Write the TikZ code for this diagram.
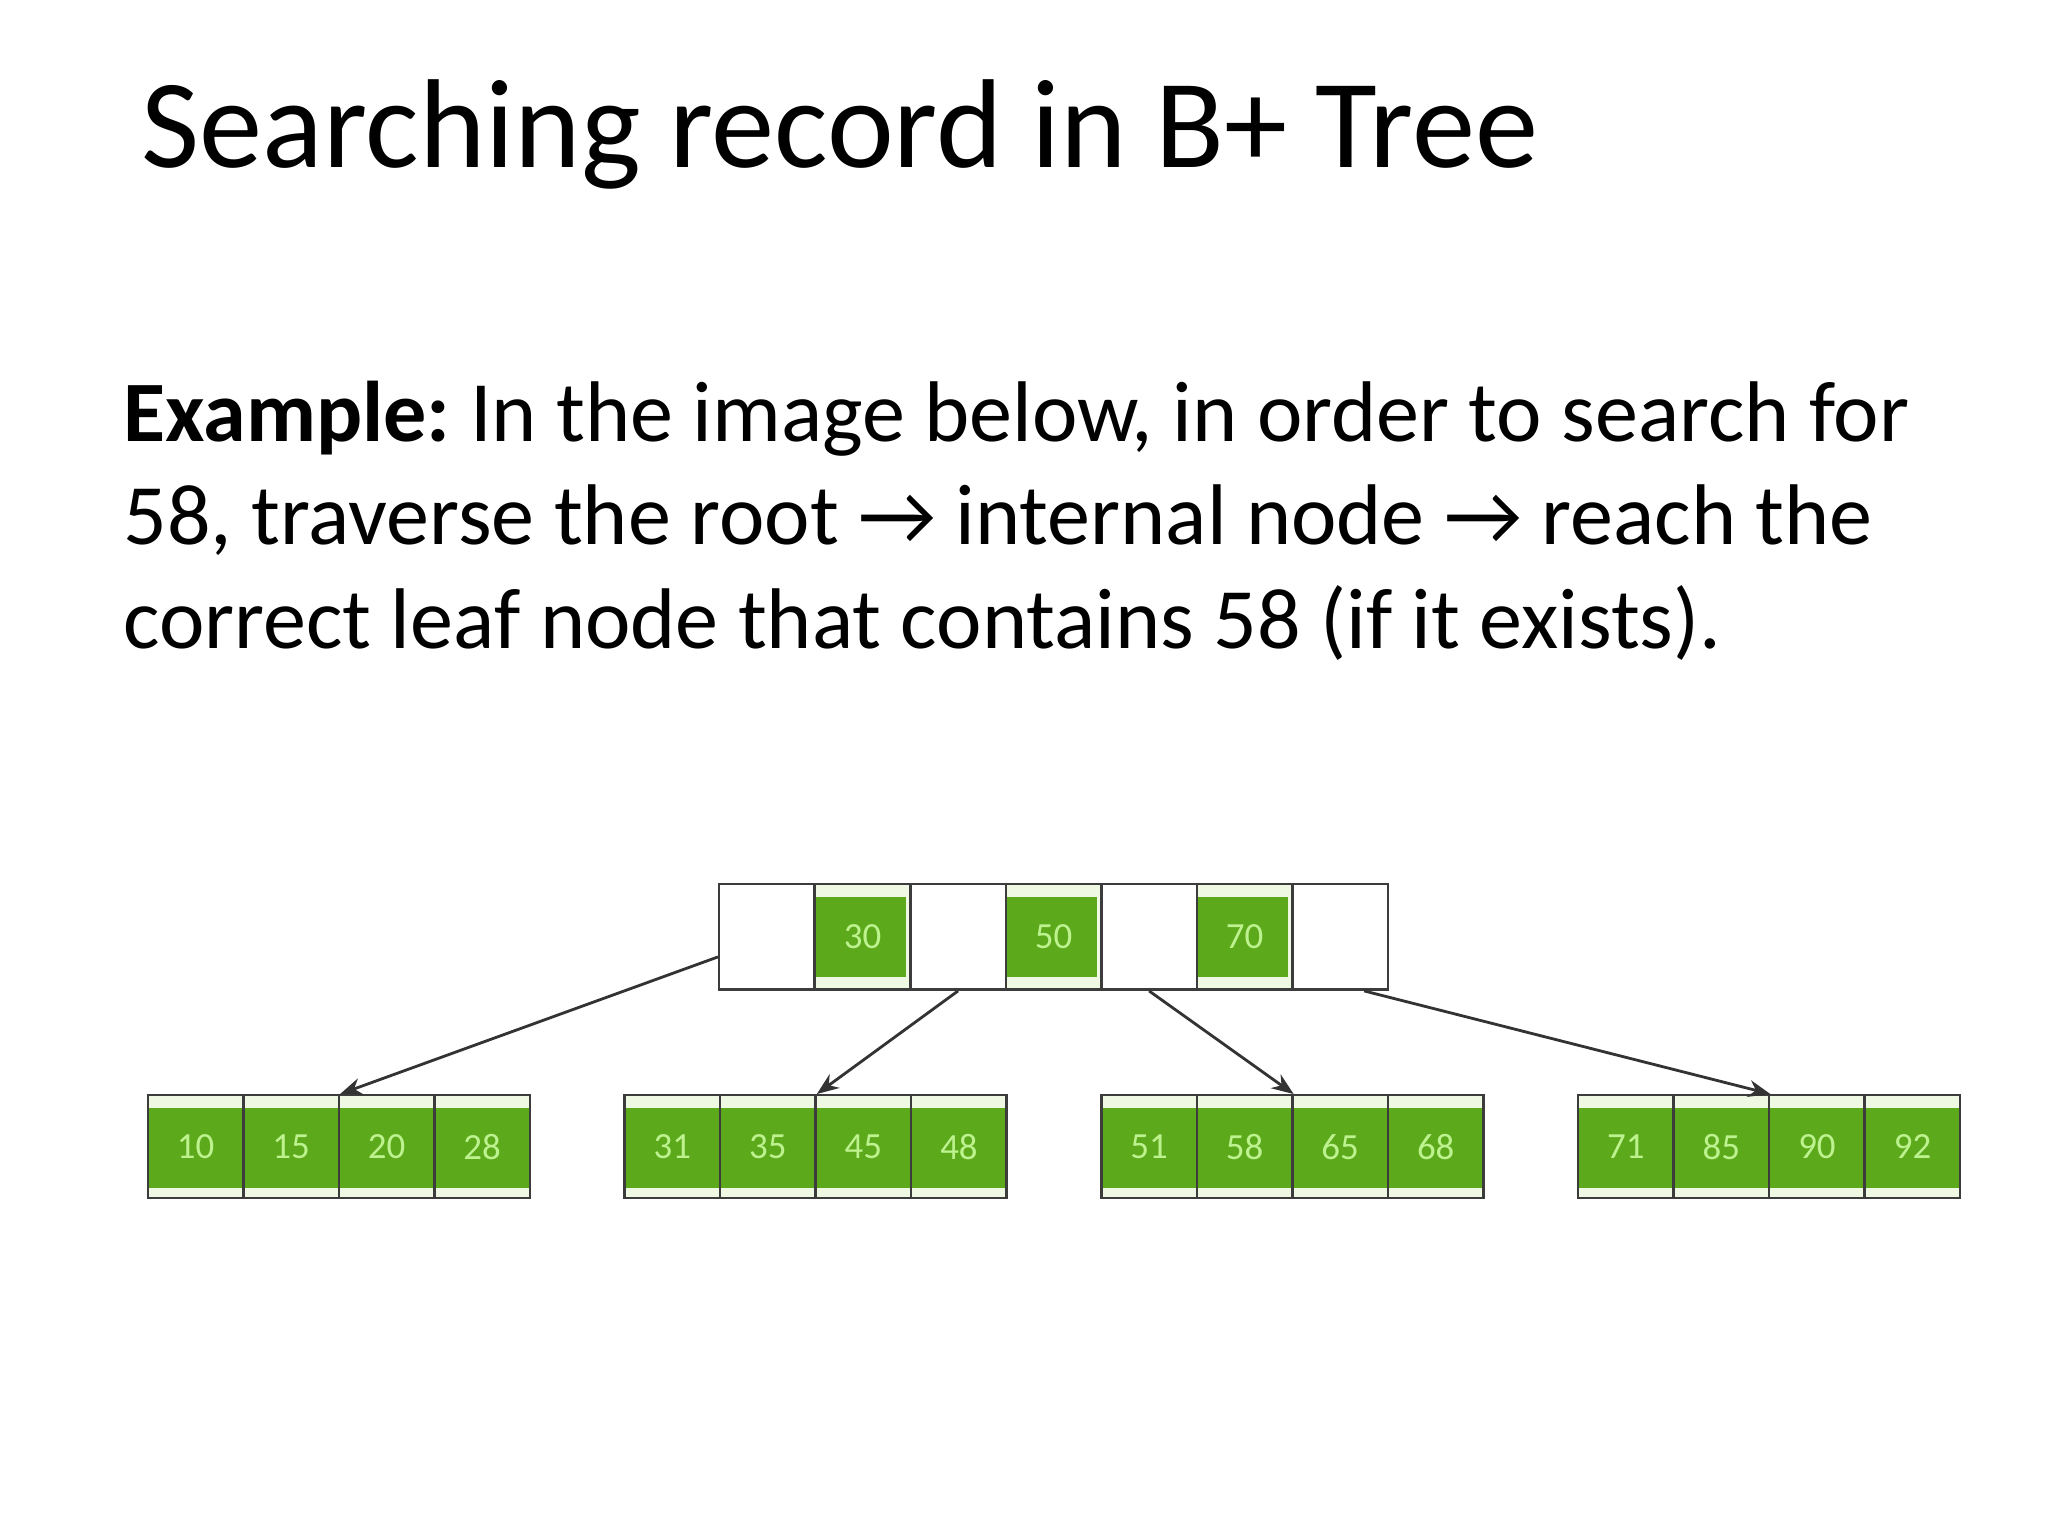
\documentclass[tikz,border=0pt]{standalone}
\usepackage{fontspec}
\setmainfont{Carlito}
\usetikzlibrary{arrows.meta}
\definecolor{keygreen}{HTML}{5CAA1C}
\definecolor{keytext}{HTML}{BDF28F}
\definecolor{pale}{HTML}{EEF8E2}
\definecolor{cellline}{HTML}{3C3C3C}
\tikzset{
    cellbox/.style={draw=cellline, line width=0.7pt, fill=white, inner sep=0pt,
        minimum width=0.955cm, minimum height=1.056cm},
    rootkey/.style={cellbox, fill=pale, text=keytext, font=\fontsize{10.5}{12}\selectfont,
        path picture={\fill[keygreen] ([yshift=-0.13cm]path picture bounding box.north west)
            rectangle ([xshift=-0.04cm,yshift=0.13cm]path picture bounding box.south east);}},
    leafkey/.style={cellbox, minimum height=1.03cm, fill=pale, text=keytext, font=\fontsize{10.5}{12}\selectfont,
        path picture={\fill[keygreen] ([yshift=-0.13cm]path picture bounding box.north west)
            rectangle ([yshift=0.105cm]path picture bounding box.south east);}},
    pointer/.style={draw=black!80, line width=0.8pt, -{Stealth[length=0.22cm,width=0.17cm]}}
}
\begin{document}
\frenchspacing
\begin{tikzpicture}[x=0.013196cm, y=-0.013196cm]
                \fill[white] (0,0) rectangle (1552,1164);
                \useasboundingbox (0,0) rectangle (1552,1164);
                \node[anchor=base west, inner sep=0pt, font=\fontsize{36}{43}\selectfont] (title) at (107,127) {Searching record in B+ Tree};
                \node[anchor=north west, align=left, inner sep=0pt, font=\fontsize{24.5}{29.5}\selectfont] (example) at (93,288)
                    {\textbf{Example:} In the image below, in order to search for\\58, traverse the root → internal node → reach the\\correct leaf node that contains 58 (if it exists).};
                % root node
                \foreach \i/\k/\s in {0//cellbox,1/30/rootkey,2//cellbox,3/50/rootkey,4//cellbox,5/70/rootkey,6//cellbox}
                {
                    \node[\s] (r\i) at ({545+72.4*(\i+0.5)},710) {\k};
                }
                % leaf nodes
                \foreach \keys [count=\j] in {{10,15,20,28},{31,35,45,48},{51,58,65,68},{71,85,90,92}}
                {
                    \foreach \k [count=\c from 0] in \keys
                        \node[leafkey] (l\j-\c) at ({112+361.3*(\j-1)+72.4*(\c+0.5)},869) {\k};
                }
                
                \draw[pointer] ([yshift=-0.2cm]r0.west) -- (l1-1.north east);
                \draw[pointer] (r2.south) -- (l2-1.north east);
                \draw[pointer] (r4.south) -- (l3-1.north east);
                \draw[pointer] ([xshift=0.24cm]r6.south) -- (l4-1.north east);
                
            \end{tikzpicture}
\end{document}
